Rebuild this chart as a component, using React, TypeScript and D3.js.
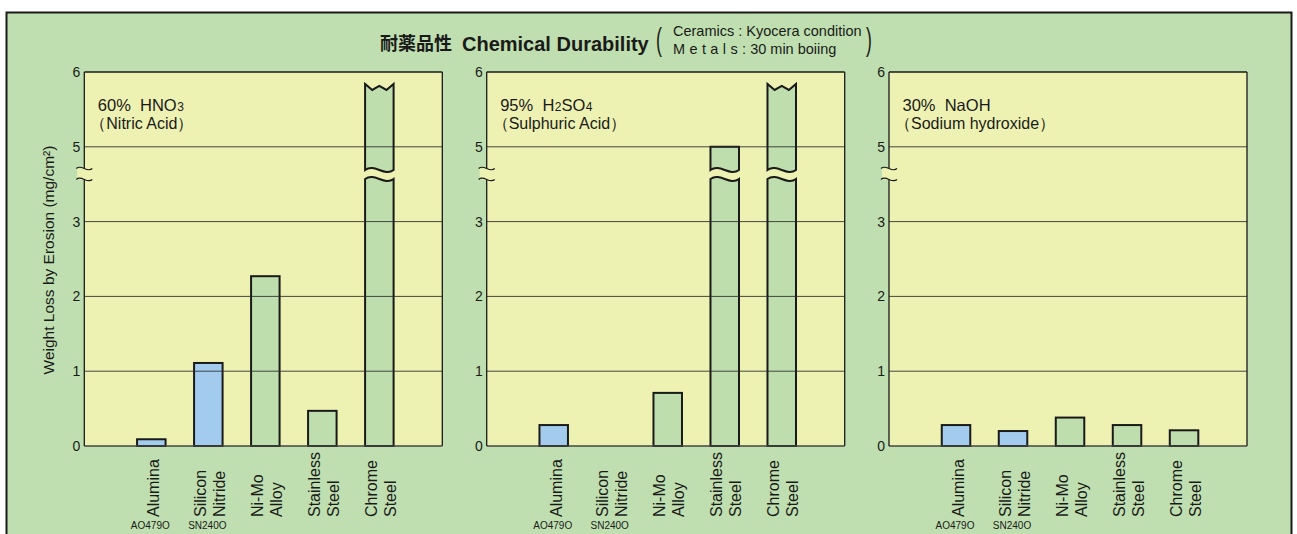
import React from "react";
import * as d3 from "d3";

// ---------- data ----------
const categories = ["Alumina", "Silicon Nitride", "Ni-Mo Alloy", "Stainless Steel", "Chrome Steel"];
const categoryLines = [["Alumina"], ["Silicon", "Nitride"], ["Ni-Mo", "Alloy"], ["Stainless", "Steel"], ["Chrome", "Steel"]];
const grades = ["AO479O", "SN240O", "", "", ""];
const materialKind = ["ceramic", "ceramic", "metal", "metal", "metal"];

const OFF = 99; // off the scale (> 6)
const hno3 = [0.09, 1.11, 2.27, 0.47, OFF];
const h2so4 = [0.28, 0, 0.71, 5, OFF];
const naoh = [0.28, 0.2, 0.38, 0.28, 0.21];

const panelSeries = [hno3, h2so4, naoh];
const panelPct = ["60%", "95%", "30%"];
const panelFormula: [string, boolean][][] = [
  [["HNO", false], ["3", true]],
  [["H", false], ["2", true], ["SO", false], ["4", true]],
  [["NaOH", false]],
];
const panelNames = ["（Nitric Acid）", "（Sulphuric Acid）", "（Sodium hydroxide）"];
const tickValues = [0, 1, 2, 3, 5, 6];
const gridValues = [1, 2, 3, 5];
const scaleDomain = [0, 3, 5, 6]; // broken axis: 3 → 5 takes one unit
const TOP_CAP = 5.84; // where off-scale bars are cut
const BREAK_LOW = 4.14;
const BREAK_HIGH = 4.38;

// ---------- style ----------
const W = 1297;
const H = 534;
const OUTER_GREEN = "#c0dfb0";
const PLOT_YELLOW = "#edf1b2";
const BAR_GREEN = "#bedfad";
const BAR_BLUE = "#a3cbee";
const INK = "#1a1a1a";
const FONT = "'Liberation Sans', Arial, sans-serif";
const CJK = "'Noto Sans CJK JP', 'Liberation Sans', sans-serif";

const plotTop = 72;
const plotBottom = 446;
const panelWidth = 358;
const panelLefts = [84.3, 486.7, 889];

const unit = (plotBottom - plotTop) / 5;
const y = d3
  .scaleLinear()
  .domain(scaleDomain)
  .range([plotBottom, plotBottom - 3 * unit, plotBottom - 4 * unit, plotBottom - 5 * unit]);

function wave(xa: number, xb: number, yy: number, k = 7) {
  const w = xb - xa;
  return `C${xa + w / 3},${yy - k} ${xa + (2 * w) / 3},${yy + k} ${xb},${yy}`;
}
function waveRev(xa: number, xb: number, yy: number, k = 7) {
  const w = xb - xa;
  return `C${xa + (2 * w) / 3},${yy + k} ${xa + w / 3},${yy - k} ${xa},${yy}`;
}

function Bar({ x0, w, v, fill }: { x0: number; w: number; v: number; fill: string }) {
  if (v <= 0) return null;
  const x1 = x0 + w;
  const base = y(0);
  if (v <= 3) {
    return <rect x={x0} y={y(v)} width={w} height={base - y(v)} fill={fill} stroke={INK} strokeWidth={2} />;
  }
  const wU = y(BREAK_HIGH);
  const wL = y(BREAK_LOW);
  let topEdge: string;
  if (v > 6) {
    const topY = y(TOP_CAP);
    topEdge = `L${x0},${topY} L${x0 + w * 0.25},${topY + 6} L${x0 + w * 0.5},${topY + 2} L${x0 + w * 0.75},${topY + 6} L${x1},${topY}`;
  } else {
    const topY = y(v);
    topEdge = `L${x0},${topY} L${x1},${topY}`;
  }
  const upper = `M${x0},${wU} ${topEdge} L${x1},${wU} ${waveRev(x0, x1, wU)} Z`;
  const lower = `M${x0},${base} L${x0},${wL} ${wave(x0, x1, wL)} L${x1},${base} Z`;
  return (
    <g>
      <path d={upper} fill={fill} stroke={INK} strokeWidth={2} strokeLinejoin="miter" />
      <path d={lower} fill={fill} stroke={INK} strokeWidth={2} />
    </g>
  );
}

function Panel({ idx }: { idx: number }) {
  const x0 = panelLefts[idx];
  const x1 = x0 + panelWidth;
  const values = panelSeries[idx];
  const xb = d3
    .scaleBand<string>()
    .domain(categories)
    .range([x0, x1])
    .paddingInner(0.5)
    .paddingOuter(0.89)
    .align(0.52);
  const bw = xb.bandwidth();
  const tildeTop = y(BREAK_HIGH) - 1.5;
  const tildeBot = y(BREAK_LOW) + 0.5;
  return (
    <g>
      <rect x={x0} y={plotTop} width={panelWidth} height={plotBottom - plotTop} fill={PLOT_YELLOW} />
      {categories.map((c, i) => (
        <Bar key={c} x0={xb(c)!} w={bw} v={values[i]} fill={materialKind[i] === "ceramic" ? BAR_BLUE : BAR_GREEN} />
      ))}
      {gridValues.map((g) => (
        <line key={g} x1={x0} x2={x1} y1={y(g)} y2={y(g)} stroke="#2a2a2a" strokeWidth={1} opacity={0.85} />
      ))}
      <line x1={x0} x2={x1} y1={plotTop} y2={plotTop} stroke={INK} strokeWidth={1.3} />
      <line x1={x1} x2={x1} y1={plotTop} y2={plotBottom} stroke={INK} strokeWidth={1.3} />
      <line x1={x0} x2={x1} y1={plotBottom} y2={plotBottom} stroke="#444" strokeWidth={1.6} />
      <line x1={x0} x2={x0} y1={plotTop} y2={tildeTop} stroke={INK} strokeWidth={1.3} />
      <line x1={x0} x2={x0} y1={tildeBot} y2={plotBottom} stroke={INK} strokeWidth={1.3} />
      <rect x={x0 - 7} y={tildeTop} width={8} height={tildeBot - tildeTop} fill={PLOT_YELLOW} />
      <path d={`M${x0 - 8},${tildeTop} ${wave(x0 - 8, x0 + 8, tildeTop, 5)}`} fill="none" stroke={INK} strokeWidth={1.2} />
      <path d={`M${x0 - 8},${tildeBot} ${wave(x0 - 8, x0 + 8, tildeBot, 5)}`} fill="none" stroke={INK} strokeWidth={1.2} />
      {tickValues.map((tv) => (
        <text key={tv} x={x0 - 4} y={y(tv)} dy="0.36em" textAnchor="end" fontFamily={FONT} fontSize={14} fill={INK}>
          {tv}
        </text>
      ))}
      <text x={x0 + 13.5} y={110.5} fontFamily={FONT} fontSize={16.5} fill={INK} style={{ whiteSpace: "pre" }}>
        {panelPct[idx] + "  "}
        {panelFormula[idx].map(([s, sub], k) => (
          <tspan key={k} fontSize={sub ? 12 : 16.5} dx={sub ? 0.5 : 0}>
            {s}
          </tspan>
        ))}
      </text>
      <text x={x0 + 6} y={129} fontFamily={FONT} fontSize={16} fill={INK}>
        {panelNames[idx]}
      </text>
      {categories.map((c, i) => {
        const cx = xb(c)! + bw / 2;
        const lines = categoryLines[i];
        const offs = lines.length === 1 ? [8] : [-2.5, 16.5];
        return (
          <g key={c}>
            {lines.map((ln, k) => (
              <text
                key={k}
                transform={`translate(${cx + offs[k]},517) rotate(-90)`}
                fontFamily={FONT}
                fontSize={16}
                fill={INK}
              >
                {ln}
              </text>
            ))}
            {grades[i] && (
              <text x={cx - 1} y={528.5} textAnchor="middle" fontFamily={FONT} fontSize={10} fill={INK}>
                {grades[i]}
              </text>
            )}
          </g>
        );
      })}
    </g>
  );
}

export default function App() {
  return (
    <svg width={W} height={H} style={{ position: "absolute", left: 0, top: 0, background: "#fff" }}>
      <rect x={6.5} y={12.5} width={1285} height={560} fill={OUTER_GREEN} stroke={INK} strokeWidth={2} />
      <text x={380} y={50} fontFamily={CJK} fontWeight="bold" fontSize={18} fill={INK}>
        耐薬品性
      </text>
      <text x={462} y={51} fontFamily={FONT} fontWeight="bold" fontSize={20} fill={INK}>
        Chemical Durability
      </text>
      <text x={656} y={50} fontFamily={FONT} fontSize={32} fill={INK} transform="translate(656,0) scale(0.55,1) translate(-656,0)">
        (
      </text>
      <text x={866} y={50} fontFamily={FONT} fontSize={32} fill={INK} transform="translate(866,0) scale(0.55,1) translate(-866,0)">
        )
      </text>
      <text x={673} y={36} fontFamily={FONT} fontSize={14.5} fill={INK}>
        Ceramics : Kyocera condition
      </text>
      <text x={673} y={53.5} fontFamily={FONT} fontSize={14.5} fill={INK} style={{ whiteSpace: "pre" }}>
        <tspan letterSpacing={4.4}>Metals</tspan>
        <tspan>{": 30 min boiing"}</tspan>
      </text>
      <text transform="translate(54,260) rotate(-90)" textAnchor="middle" fontFamily={FONT} fontSize={15.5} fill={INK}>
        Weight Loss by Erosion (mg/cm²)
      </text>
      {[0, 1, 2].map((i) => (
        <Panel key={i} idx={i} />
      ))}
    </svg>
  );
}
